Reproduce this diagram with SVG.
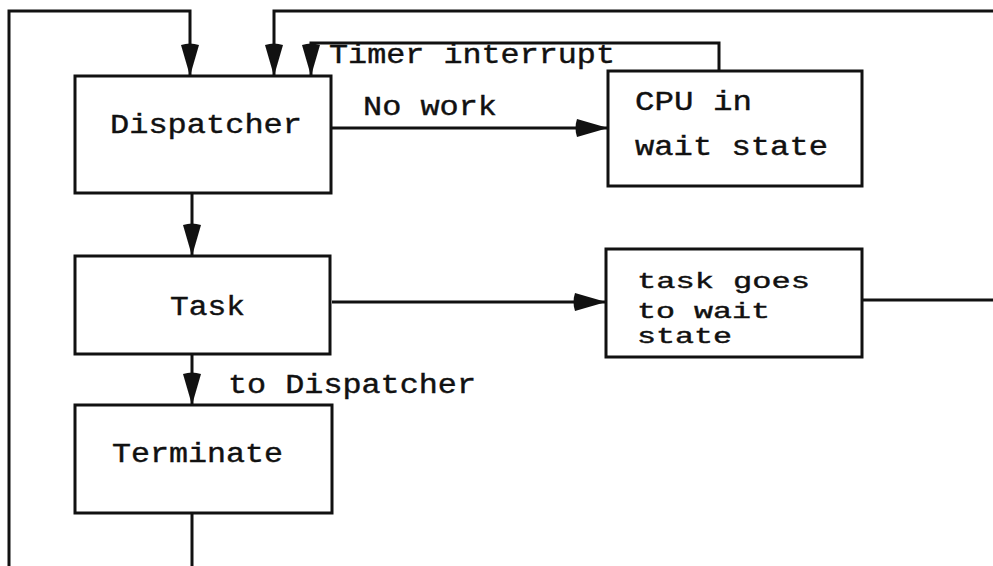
<svg xmlns="http://www.w3.org/2000/svg" width="993" height="566" viewBox="0 0 993 566">
  <style>
    .box { fill: #fff; stroke: #111; stroke-width: 3; }
    .wire { fill: none; stroke: #111; stroke-width: 3; }
    .lbl { font-family: "Liberation Mono", "Courier New", monospace; font-size: 27px; fill: #111; stroke: #111; stroke-width: 0.4; }
    .tight { font-size: 22px; }
  </style>
  <defs>
    <marker id="dart" markerUnits="userSpaceOnUse" viewBox="-2 -10 34 20" markerWidth="34" markerHeight="20" refX="31" refY="0" orient="auto">
      <path d="M0,-9 C-2,-3 -2,3 0,9 L31,0 Z" fill="#111"/>
    </marker>
  </defs>
  <rect width="993" height="566" fill="#fff"/>

  <g id="connectors">
    <polyline class="wire" points="9,566 9,11 190,11 190,76" marker-end="url(#dart)"/>
    <polyline class="wire" points="993,11 274,11 274,76" marker-end="url(#dart)"/>
    <polyline class="wire" points="719,70 719,43 311,43 311,76" marker-end="url(#dart)"/>
    <line class="wire" x1="332" y1="128" x2="608" y2="128" marker-end="url(#dart)"/>
    <line class="wire" x1="192" y1="193" x2="192" y2="256" marker-end="url(#dart)"/>
    <line class="wire" x1="332" y1="302" x2="606" y2="302" marker-end="url(#dart)"/>
    <line class="wire" x1="862" y1="300" x2="993" y2="300"/>
    <line class="wire" x1="192" y1="354" x2="192" y2="405" marker-end="url(#dart)"/>
    <line class="wire" x1="192" y1="513" x2="192" y2="566"/>
    <text class="lbl" x="329" y="63" textLength="286" lengthAdjust="spacingAndGlyphs">Timer interrupt</text>
    <text class="lbl" x="363" y="115" textLength="134" lengthAdjust="spacingAndGlyphs">No work</text>
    <text class="lbl" x="228" y="393" textLength="248" lengthAdjust="spacingAndGlyphs">to Dispatcher</text>
  </g>

  <g id="dispatcher">
    <rect class="box" x="75" y="76" width="256" height="117"/>
    <text class="lbl" x="110" y="133" textLength="192" lengthAdjust="spacingAndGlyphs">Dispatcher</text>
  </g>

  <g id="cpu-wait">
    <rect class="box" x="608" y="71" width="254" height="115"/>
    <text class="lbl" x="635" y="110" textLength="117" lengthAdjust="spacingAndGlyphs">CPU in</text>
    <text class="lbl" x="635" y="155" textLength="193" lengthAdjust="spacingAndGlyphs">wait state</text>
  </g>

  <g id="task">
    <rect class="box" x="75" y="256" width="255" height="98"/>
    <text class="lbl" x="170" y="315" textLength="75" lengthAdjust="spacingAndGlyphs">Task</text>
  </g>

  <g id="task-wait">
    <rect class="box" x="606" y="249" width="256" height="108"/>
    <text class="lbl tight" x="637" y="288" textLength="173" lengthAdjust="spacingAndGlyphs">task goes</text>
    <text class="lbl tight" x="637" y="318" textLength="133" lengthAdjust="spacingAndGlyphs">to wait</text>
    <text class="lbl tight" x="637" y="343" textLength="95" lengthAdjust="spacingAndGlyphs">state</text>
  </g>

  <g id="terminate">
    <rect class="box" x="75" y="405" width="257" height="108"/>
    <text class="lbl" x="112" y="462" textLength="171" lengthAdjust="spacingAndGlyphs">Terminate</text>
  </g>
</svg>
